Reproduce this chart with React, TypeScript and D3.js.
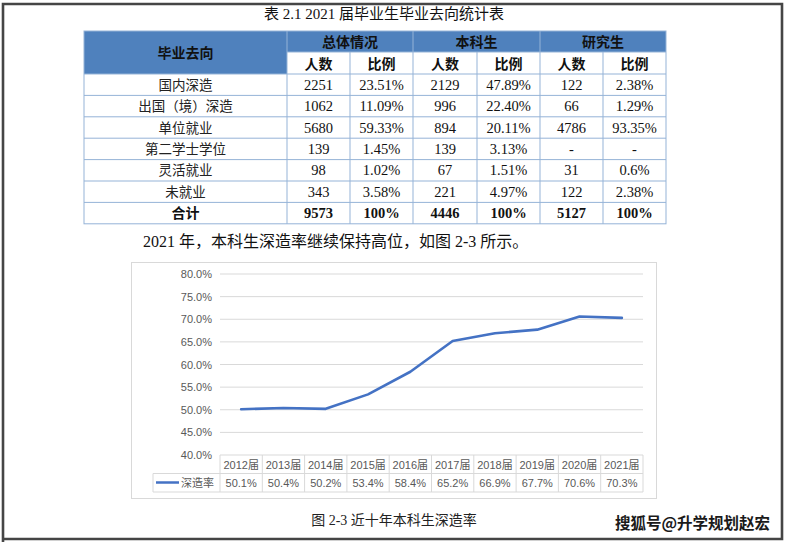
import React from "react";
import * as d3 from "d3";

const rowLabels = ["国内深造", "出国（境）深造", "单位就业", "第二学士学位", "灵活就业", "未就业", "合计"];
const totalCount = ["2251", "1062", "5680", "139", "98", "343", "9573"];
const totalRatio = ["23.51%", "11.09%", "59.33%", "1.45%", "1.02%", "3.58%", "100%"];
const ugCount = ["2129", "996", "894", "139", "67", "221", "4446"];
const ugRatio = ["47.89%", "22.40%", "20.11%", "3.13%", "1.51%", "4.97%", "100%"];
const gradCount = ["122", "66", "4786", "-", "31", "122", "5127"];
const gradRatio = ["2.38%", "1.29%", "93.35%", "-", "0.6%", "2.38%", "100%"];
const groupHeaders = ["总体情况", "本科生", "研究生"];
const subHeaders = ["人数", "比例"];

const years = ["2012届", "2013届", "2014届", "2015届", "2016届", "2017届", "2018届", "2019届", "2020届", "2021届"];
const rates = [50.1, 50.4, 50.2, 53.4, 58.4, 65.2, 66.9, 67.7, 70.6, 70.3];
const yTicks = [40, 45, 50, 55, 60, 65, 70, 75, 80];

const serif = '"Liberation Serif", "Times New Roman", "Noto Sans CJK SC", serif';
const cjk = '"Noto Sans CJK SC", "Liberation Serif", serif';
const sans = '"Liberation Sans", Arial, "Noto Sans CJK SC", sans-serif';

export default function App() {
  const W = 786, H = 542;
  const colX = [84, 287, 350, 413, 477, 540, 603, 666];
  const hTop = 31, hMid = 52, hBot = 74, rowH = 21.4;
  const rowY = d3.range(rowLabels.length + 1).map((i) => hBot + i * rowH);
  const cols = [totalCount, totalRatio, ugCount, ugRatio, gradCount, gradRatio];
  const blue = "#4F81BD";
  const bcol = "#95B3D7";

  const x = d3.scaleBand<string>().domain(years).range([220, 643]);
  const y = d3.scaleLinear().domain([40, 80]).range([455, 274]);
  const line = d3
    .line<number>()
    .x((_, i) => (x(years[i]) as number) + x.bandwidth() / 2)
    .y((d) => y(d));
  const tblTop = 455, tblMid = 473.5, tblBot = 492;

  return (
    <svg width={W} height={H} style={{ position: "absolute", left: 0, top: 0, background: "#fff" }}>
      <rect x={0} y={0} width={W} height={H} fill="#fff" />
      <path d={`M3,${H} L3,4 L782,4 L782,539 L3,539`} fill="none" stroke="#454545" strokeWidth={2.6} />

      <text x={384} y={19} textAnchor="middle" fontFamily={serif} fontSize={15} fill="#111">
        表 2.1 2021 届毕业生毕业去向统计表
      </text>

      <rect x={colX[0]} y={hTop} width={colX[1] - colX[0]} height={hBot - hTop} fill={blue} />
      <rect x={colX[1]} y={hTop} width={colX[7] - colX[1]} height={hMid - hTop} fill={blue} />

      <g stroke={bcol} strokeWidth={1} fill="none">
        <rect x={colX[0]} y={hTop} width={colX[7] - colX[0]} height={rowY[rowY.length - 1] - hTop} />
        <line x1={colX[1]} x2={colX[7]} y1={hMid} y2={hMid} />
        {rowY.slice(0, -1).map((ry, i) => (
          <line key={"h" + i} x1={colX[0]} x2={colX[7]} y1={ry} y2={ry} />
        ))}
        {colX.slice(1, -1).map((cx, i) => (
          <line key={"v" + i} x1={cx} x2={cx} y1={i % 2 === 0 ? hTop : hMid} y2={rowY[rowY.length - 1]} />
        ))}
      </g>

      <text x={(colX[0] + colX[1]) / 2} y={(hTop + hBot) / 2 + 5} textAnchor="middle" fontFamily={cjk} fontWeight="bold" fontSize={14} fill="#111">
        毕业去向
      </text>
      {groupHeaders.map((g, i) => (
        <text key={g} x={(colX[1 + i * 2] + colX[3 + i * 2]) / 2} y={hMid - 5.5} textAnchor="middle" fontFamily={cjk} fontWeight="bold" fontSize={14} fill="#111">
          {g}
        </text>
      ))}
      {d3.range(6).map((i) => (
        <text key={"s" + i} x={(colX[1 + i] + colX[2 + i]) / 2} y={hBot - 5.5} textAnchor="middle" fontFamily={cjk} fontWeight="bold" fontSize={14} fill="#111">
          {subHeaders[i % 2]}
        </text>
      ))}

      {rowLabels.map((lab, r) => {
        const last = r === rowLabels.length - 1;
        const cy = rowY[r] + rowH / 2 + 5;
        return (
          <g key={lab}>
            <text x={(colX[0] + colX[1]) / 2} y={cy} textAnchor="middle" fontFamily={cjk} fontWeight={last ? "bold" : "normal"} fontSize={last ? 14 : 13.5} fill={last ? "#111" : "#222"}>
              {lab}
            </text>
            {cols.map((c, j) => (
              <text key={j} x={(colX[1 + j] + colX[2 + j]) / 2} y={cy} textAnchor="middle" fontFamily={serif} fontWeight={last ? "bold" : "normal"} fontSize={14.5} fill="#111">
                {c[r]}
              </text>
            ))}
          </g>
        );
      })}

      <text x={143} y={247} fontFamily={serif} fontSize={16} fill="#111">
        2021 年，本科生深造率继续保持高位，如图 2-3 所示。
      </text>

      <rect x={131.5} y={262.5} width={525} height={236} fill="#fff" stroke="#D9D9D9" strokeWidth={1} />

      {yTicks.map((t) => (
        <g key={t}>
          <line x1={220} x2={643} y1={y(t)} y2={y(t)} stroke="#D9D9D9" strokeWidth={1} />
          <text x={212} y={y(t) + 4} textAnchor="end" fontFamily={sans} fontSize={11} fill="#595959">
            {t.toFixed(1)}%
          </text>
        </g>
      ))}

      <g stroke="#D9D9D9" strokeWidth={1} fill="none">
        <line x1={153} x2={643} y1={tblMid} y2={tblMid} />
        <line x1={153} x2={643} y1={tblBot} y2={tblBot} />
        <line x1={153} x2={153} y1={tblMid} y2={tblBot} />
        {years.map((yr) => (
          <line key={yr} x1={x(yr) as number} x2={x(yr) as number} y1={tblTop} y2={tblBot} />
        ))}
        <line x1={643} x2={643} y1={tblTop} y2={tblBot} />
      </g>
      {years.map((yr, i) => (
        <g key={"t" + yr}>
          <text x={(x(yr) as number) + x.bandwidth() / 2} y={tblTop + 13.5} textAnchor="middle" fontFamily={sans} fontSize={11} fill="#595959">
            {yr}
          </text>
          <text x={(x(yr) as number) + x.bandwidth() / 2} y={tblMid + 13} textAnchor="middle" fontFamily={sans} fontSize={11} fill="#595959">
            {rates[i].toFixed(1)}%
          </text>
        </g>
      ))}
      <line x1={156} x2={179} y1={tblMid + 9} y2={tblMid + 9} stroke="#4472C4" strokeWidth={2.5} />
      <text x={181} y={tblMid + 13} fontFamily={sans} fontSize={11} fill="#595959">
        深造率
      </text>

      <path d={line(rates) || ""} fill="none" stroke="#4472C4" strokeWidth={2.6} strokeLinejoin="round" strokeLinecap="round" />

      <text x={394} y={525} textAnchor="middle" fontFamily={serif} fontSize={14} fill="#222">
        图 2-3  近十年本科生深造率
      </text>

      <text x={770} y={529} textAnchor="end" fontFamily={cjk} fontWeight="bold" fontSize={15.5} fill="#1a1a1a" stroke="#fff" strokeWidth={2.5} style={{ paintOrder: "stroke" } as any}>
        搜狐号@升学规划赵宏
      </text>
    </svg>
  );
}
